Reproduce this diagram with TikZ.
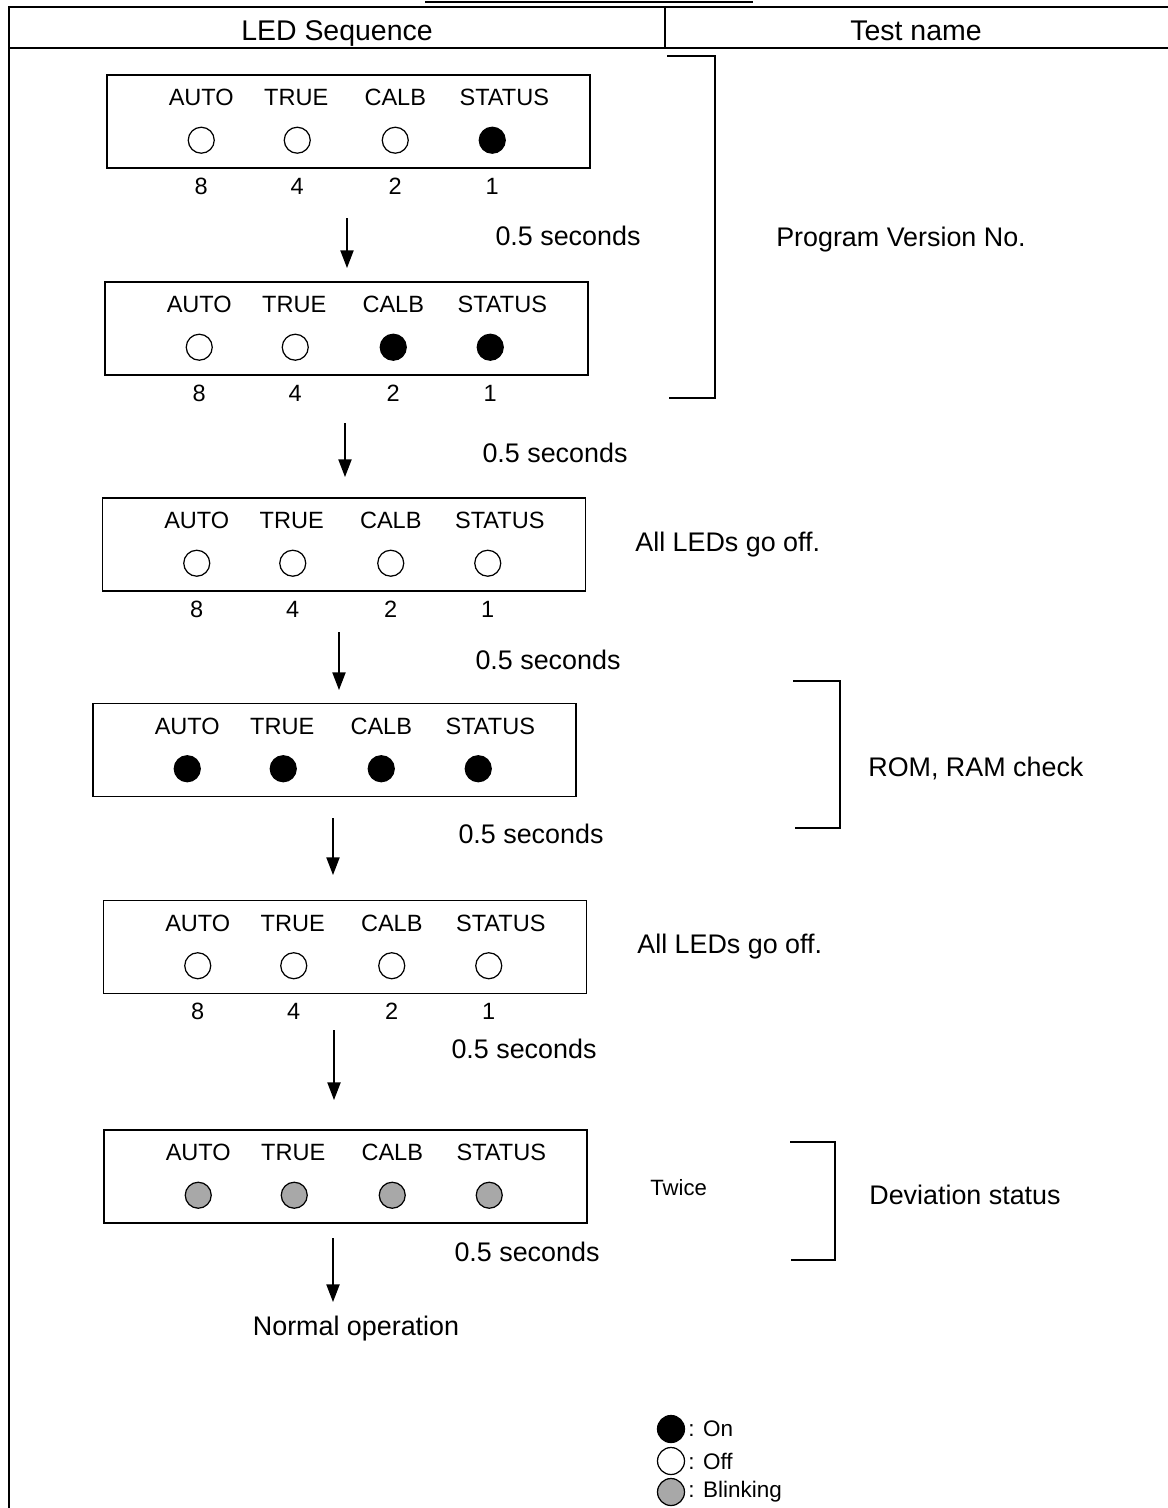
\documentclass[tikz,border=0pt]{standalone}
\usepackage{fontspec}
\setmainfont{Liberation Sans}
\usetikzlibrary{positioning,arrows.meta,calc}
\definecolor{cblink}{RGB}{168,168,168}

\begin{document}
\begin{tikzpicture}[
  x=0.02cm, y=-0.02cm,
  panel/.style={draw, line width=0.9pt, minimum width=9.66cm, minimum height=1.86cm, inner sep=0},
  led/.style={circle, draw, line width=0.7pt, minimum size=0.52cm, inner sep=0},
  ledlabel/.style={font=\fontsize{13.4}{16}\selectfont, inner sep=0, anchor=base},
  keylabel/.style={font=\fontsize{12.8}{15}\selectfont, inner sep=0},
  note/.style={font=\fontsize{15.3}{18}\selectfont, inner sep=0},
  small/.style={font=\fontsize{12.6}{15}\selectfont, inner sep=0},
  head/.style={font=\fontsize{16.2}{19}\selectfont, inner sep=0, anchor=base},
  rule/.style={line width=1.3pt},
  bracket/.style={line width=1.1pt},
  flow/.style={-{Triangle[length=10pt,width=7.5pt]}, line width=0.75pt}
]
\useasboundingbox (0,0) rectangle (1168,1508);

% HEADER
\draw[line width=1.6pt] (425,2) -- (753,2);
\draw[rule] (1168,7) -- (9,7) -- (9,1508);
\draw[rule] (9,48) -- (1168,48);
\draw[rule] (665,7) -- (665,48);
\node[head] (hseq) at (337,40) {LED Sequence};
\node[head] (hname) at (916,40) {Test name};

% PANELS
\foreach \p/\px/\py/\sa/\sb/\sc/\sd in {%
    1/348.5/121.5/white/white/white/black,%
    2/346.5/328.5/white/white/black/black,%
    3/344/544.5/white/white/white/white,%
    4/334.5/750/black/black/black/black,%
    5/345/947/white/white/white/white,%
    6/345.5/1176.5/cblink/cblink/cblink/cblink}{
  \node[panel] (panel\p) at (\px,\py) {};
  \foreach \lab/\lx/\cx/\st in {AUTO/95/95/\sa, TRUE/190/191/\sb, CALB/289/289/\sc, STATUS/398/386/\sd}{
    \node[ledlabel] (name\p\lab) at ($(panel\p.north west)+(\lx,31.5)$) {\lab};
    \node[led, fill=\st] (led\p\lab) at ($(panel\p.north west)+(\cx,66)$) {};
  }
}

% BIT WEIGHTS
\foreach \p in {1,2,3,5}{
  \foreach \n/\cx in {8/95,4/191,2/289,1/386}
    \node[ledlabel] (bit\p\n) at ($(panel\p.south west)+(\cx,25.5)$) {\n};
}

% ARROWS
\foreach \a/\ax/\ys/\ye in {1/347/218/268, 2/345/423/477, 3/339/632/690, 4/333/818/875, 5/334/1030/1100, 6/333/1238/1302}{
  \coordinate (from\a) at (\ax,\ys);
  \coordinate (to\a) at (\ax,\ye);
  \draw[flow] (from\a) -- (to\a);
}
\foreach \a/\tx/\ty in {1/568/236, 2/555/453, 3/548/660, 4/531/834, 5/524/1049, 6/527/1252}
  \node[note] (wait\a) at (\tx,\ty) {0.5 seconds};
\node[note] (tnormal) at (356,1329) {Normal operation};

% TEST NAMES
\node[note] (tprog) at (901,240) {Program Version No.};
\node[note, anchor=west] (toff1) at (635,545) {All LEDs go off.};
\node[note, anchor=west] (tmem) at (868,768) {ROM, RAM check};
\node[note, anchor=west] (toff2) at (637,947) {All LEDs go off.};
\node[small, anchor=west] (ttwice) at (650,1188) {Twice};
\node[note, anchor=west] (tdev) at (869,1195) {Deviation status};

% BRACKETS
\draw[bracket] (667,56) -- (715,56) -- (715,398) -- (669,398);
\draw[bracket] (793,681) -- (840,681) -- (840,828) -- (795,828);
\draw[bracket] (790,1142) -- (835,1142) -- (835,1260) -- (791,1260);

% LEGEND
\foreach \st/\lab/\ly [count=\i] in {black/On/1429, white/Off/1461, cblink/Blinking/1492}{
  \node[led, fill=\st, minimum size=0.54cm] (key\i) at (671,\ly) {};
  \node[keylabel, right=0.6mm of key\i] (keytext\i) {: \lab};
}

\end{tikzpicture}
\end{document}
